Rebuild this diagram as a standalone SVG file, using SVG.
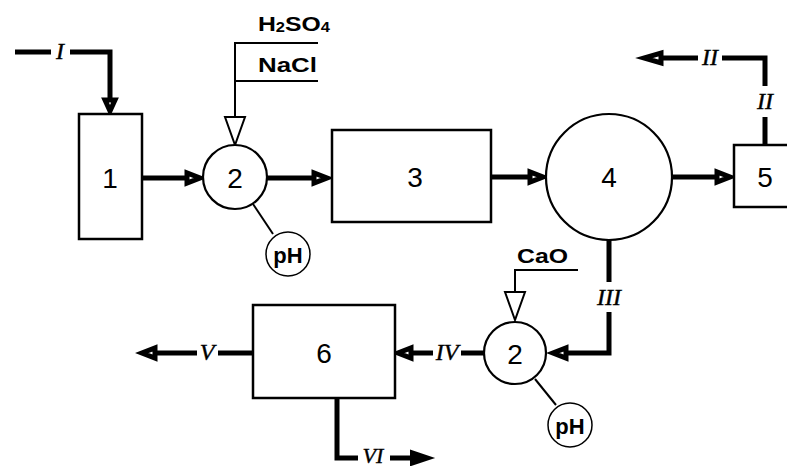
<svg xmlns="http://www.w3.org/2000/svg" width="787" height="466" viewBox="0 0 787 466">
<style>
.box{fill:#fff;stroke:#000;stroke-width:2.5}
.node{fill:#fff;stroke:#000;stroke-width:2.2}
.thick{fill:none;stroke:#000;stroke-width:5;stroke-linejoin:miter}
.thin{fill:none;stroke:#000;stroke-width:2}
.ah{fill:#fff;stroke:#000;stroke-width:5;stroke-linejoin:miter}
.ahs{fill:#000;stroke:#000;stroke-width:2}
.ha{fill:#fff;stroke:#000;stroke-width:2}
.num{font-family:"Liberation Sans",Arial,sans-serif;font-size:28px;text-anchor:middle;dominant-baseline:central}
.rom{font-family:"Liberation Serif","Times New Roman",serif;font-style:italic;font-size:24px;text-anchor:middle;dominant-baseline:central;stroke:#000;stroke-width:0.4}
.chem{font-family:"Liberation Sans",Arial,sans-serif;font-weight:bold;font-size:21px}
.ph{font-family:"Liberation Sans",Arial,sans-serif;font-weight:bold;font-size:22px;text-anchor:middle;dominant-baseline:central}
</style>
<rect width="787" height="466" fill="#fff"/>
<g id="connectors">
  <!-- I -->
  <path class="thick" d="M15,52 H51 M70,52 H110 V99"/>
  <polygon class="ah" points="105,100 115,100 110,111"/>
  <text class="rom" x="60" y="51">I</text>
  <!-- 1 to 2 -->
  <path class="thick" d="M142,178 H187"/>
  <polygon class="ah" points="187,173 187,183 200,178"/>
  <!-- reagents top -->
  <path class="thin" d="M318,43 H235 V117 M235,81 H318"/>
  <polygon class="ha" points="225,117 245,117 235,145"/>
  <!-- pH link top -->
  <path class="thin" d="M253,204 L273,234"/>
  <!-- 2 to 3 -->
  <path class="thick" d="M267,178 H314"/>
  <polygon class="ah" points="314,173 314,183 327,178"/>
  <!-- 3 to 4 -->
  <path class="thick" d="M491,177 H530"/>
  <polygon class="ah" points="530,172 530,182 543,177"/>
  <!-- 4 to 5 -->
  <path class="thick" d="M672,177 H717"/>
  <polygon class="ah" points="717,172 717,182 730,177"/>
  <!-- II -->
  <path class="thick" d="M765,145 V117 M765,86 V58 H722 M698,58 H662"/>
  <polygon class="ah" points="661,53 661,63 644,58"/>
  <text class="rom" x="710" y="57">II</text>
  <text class="rom" x="765" y="101">II</text>
  <!-- III -->
  <path class="thick" d="M609,240 V282 M609,312 V353 H567"/>
  <polygon class="ah" points="566,348 566,358 553,353"/>
  <text class="rom" x="609" y="297">III</text>
  <!-- CaO -->
  <path class="thin" d="M578,270 H515 V292"/>
  <polygon class="ha" points="505,292 525,292 515,320"/>
  <!-- pH link bottom -->
  <path class="thin" d="M535,379 L556,405"/>
  <!-- IV -->
  <path class="thick" d="M484,353 H461 M433,353 H411"/>
  <polygon class="ah" points="411,348 411,358 398,353"/>
  <text class="rom" x="447" y="352">IV</text>
  <!-- V -->
  <path class="thick" d="M253,353 H218 M197,353 H155"/>
  <polygon class="ah" points="155,348 155,358 142,353"/>
  <text class="rom" x="207" y="352">V</text>
  <!-- VI -->
  <path class="thick" d="M337,398 V458 H358 M390,458 H412"/>
  <polygon class="ahs" points="411,451 411,465 432,458"/>
  <text class="rom" x="373" y="455" style="font-size:22px">VI</text>
</g>
<g id="node1">
  <rect class="box" x="79" y="114" width="63" height="125"/>
  <text class="num" x="110" y="178">1</text>
</g>
<g id="node2a">
  <circle class="node" cx="235" cy="177" r="32"/>
  <text class="num" x="235" y="178">2</text>
</g>
<g id="reagents">
  <text class="chem" x="258" y="31" textLength="72" lengthAdjust="spacingAndGlyphs">H<tspan font-size="14" dy="1">2</tspan><tspan dy="-1">SO</tspan><tspan font-size="14" dy="1">4</tspan></text>
  <text class="chem" x="258" y="72" textLength="59" lengthAdjust="spacingAndGlyphs">NaCl</text>
</g>
<g id="ph1">
  <circle class="node" cx="288" cy="254" r="22" style="stroke-width:1.5"/>
  <text class="ph" x="288" y="255">pH</text>
</g>
<g id="node3">
  <rect class="box" x="332" y="130" width="159" height="92"/>
  <text class="num" x="415" y="177">3</text>
</g>
<g id="node4">
  <circle class="node" cx="609" cy="177" r="63"/>
  <text class="num" x="609" y="177">4</text>
</g>
<g id="node5">
  <rect class="box" x="734" y="145" width="80" height="62"/>
  <text class="num" x="765" y="177">5</text>
</g>
<g id="node2b">
  <circle class="node" cx="515" cy="353" r="31"/>
  <text class="num" x="515" y="354">2</text>
</g>
<g id="cao">
  <text class="chem" x="517" y="263" textLength="51" lengthAdjust="spacingAndGlyphs">CaO</text>
</g>
<g id="ph2">
  <circle class="node" cx="570" cy="425" r="22" style="stroke-width:1.5"/>
  <text class="ph" x="570" y="426">pH</text>
</g>
<g id="node6">
  <rect class="box" x="253" y="305" width="142" height="93"/>
  <text class="num" x="324" y="353">6</text>
</g>
</svg>
